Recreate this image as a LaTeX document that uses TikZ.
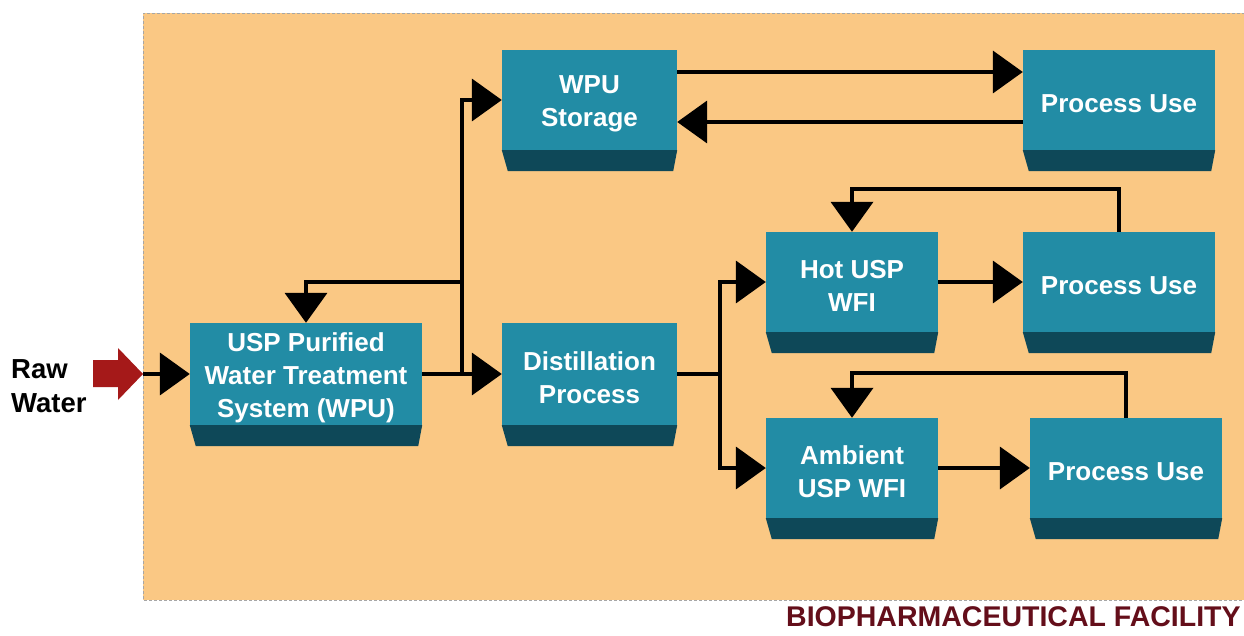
\documentclass[tikz,border=0pt]{standalone}
\usepackage{fontspec}
\setmainfont{Liberation Sans}
\usetikzlibrary{arrows.meta}
\definecolor{bgor}{RGB}{250,200,132}
\definecolor{face}{RGB}{34,140,165}
\definecolor{strip}{RGB}{14,72,88}
\definecolor{rawred}{RGB}{165,25,25}
\definecolor{titred}{RGB}{100,14,26}
\begin{document}
\begin{tikzpicture}[x=1pt,y=-1pt,
  blk/.style={fill=face, draw=none, inner sep=0pt},
  blktxt/.style={text=white, align=center, yshift=-4pt,
    font=\bfseries\fontsize{26}{33}\selectfont, inner sep=0pt},
  ln/.style={line width=4pt, black},
  arr/.style={line width=4pt, black, -{Triangle[length=30pt,width=42pt]}}]
\useasboundingbox (0,0) rectangle (1244,636);
\clip (0,0) rectangle (1244,636);
% background
\fill[bgor] (143,13) rectangle (1250,600);
\draw[gray!70, densely dashed, line width=0.6pt] (1250,13) -- (143,13) -- (143,600) -- (1250,600);
% boxes
\node[blk, minimum width=232pt, minimum height=102pt] (usp) at (306,374) {};
\node[blk, minimum width=175pt, minimum height=102pt] (dist) at (589.5,374) {};
\node[blk, minimum width=175pt, minimum height=100pt] (wpu) at (589.5,100) {};
\node[blk, minimum width=192pt, minimum height=100pt] (pu1) at (1119,100) {};
\node[blk, minimum width=172pt, minimum height=100pt] (hot) at (852,282) {};
\node[blk, minimum width=192pt, minimum height=100pt] (pu2) at (1119,282) {};
\node[blk, minimum width=172pt, minimum height=100pt] (amb) at (852,468) {};
\node[blk, minimum width=192pt, minimum height=100pt] (pu3) at (1126,468) {};
\foreach \b in {usp,dist,wpu,pu1,hot,pu2,amb,pu3}{
  \fill[strip] (\b.south west) -- (\b.south east) -- ([xshift=-4pt,yshift=-21pt]\b.south east) -- ([xshift=6pt,yshift=-21pt]\b.south west) -- cycle;
}
\node[blktxt] (usp-t) at (usp) {USP Purified\\Water Treatment\\System (WPU)};
\node[blktxt] (dist-t) at (dist) {Distillation\\Process};
\node[blktxt] (wpu-t) at (wpu) {WPU\\Storage};
\node[blktxt] (pu1-t) at (pu1) {Process Use};
\node[blktxt] (hot-t) at (hot) {Hot USP\\WFI};
\node[blktxt] (pu2-t) at (pu2) {Process Use};
\node[blktxt] (amb-t) at (amb) {Ambient\\USP WFI};
\node[blktxt] (pu3-t) at (pu3) {Process Use};
% raw water
\node[anchor=west, align=left, font=\bfseries\fontsize{27.5}{34}\selectfont, inner sep=0pt] (raw) at (11,386) {Raw\\Water};
\fill[rawred] (93,360) -- (118,360) -- (118,348) -- (143,374) -- (118,400) -- (118,387) -- (93,387) -- cycle;
\coordinate (rawtip) at (143,374);
\draw[arr] (rawtip) -- (usp.west);
% WPU connections
\coordinate (trunk) at (462,374);
\coordinate (tj) at (462,282);
\draw[arr] (usp.east) -- (dist.west);
\draw[arr] (trunk) |- (wpu.west);
\draw[arr] (tj) -| (usp.north);
\draw[arr] ([yshift=28pt]wpu.east) -- ([yshift=28pt]pu1.west);
\draw[arr] ([yshift=-22pt]pu1.west) -- ([yshift=-22pt]wpu.east);
% distillation
\coordinate (dj) at (720,374);
\draw[ln] (dist.east) -- ([xshift=2pt]dj);
\draw[arr] (dj) |- (hot.west);
\draw[arr] (dj) |- (amb.west);
\draw[arr] (hot.east) -- (pu2.west);
\draw[arr] (amb.east) -- (pu3.west);
\draw[arr] (pu2.north) -- ++(0,-43) -| (hot.north);
\draw[arr] (pu3.north) -- ++(0,-45) -| (amb.north);
% title
\node[anchor=base west, text=titred, font=\bfseries\fontsize{28.5}{34}\selectfont, inner sep=0pt] (title) at (786,626) {BIOPHARMACEUTICAL FACILITY};
\end{tikzpicture}
\end{document}
